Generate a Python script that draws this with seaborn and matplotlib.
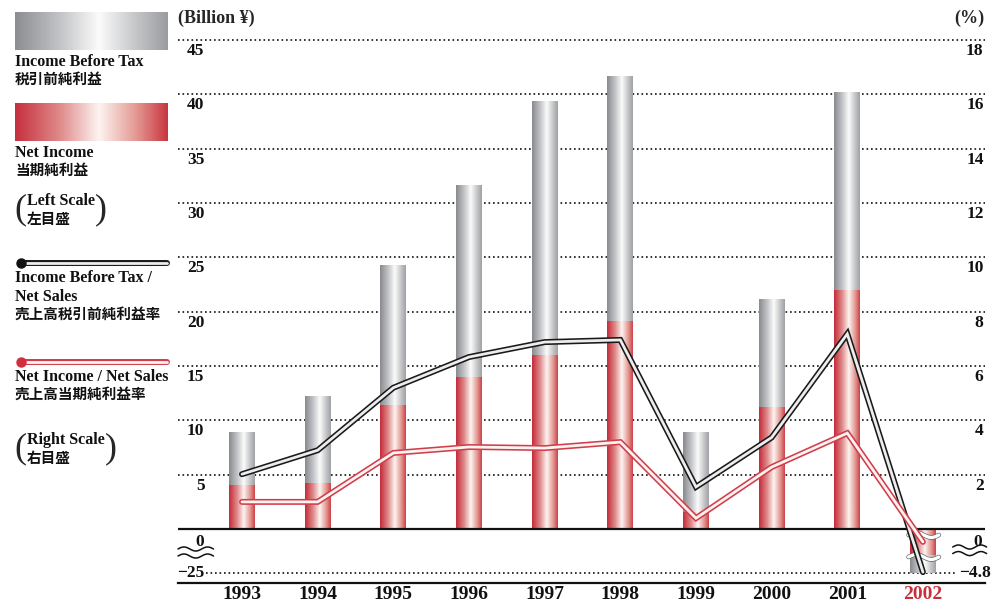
"""Income before tax / net income with margin ratios, broken axis for the 2002 loss."""

import matplotlib

matplotlib.use("Agg")

import matplotlib.patheffects as pe  # noqa: E402
import matplotlib.pyplot as plt  # noqa: E402
import numpy as np  # noqa: E402
import pandas as pd  # noqa: E402
import seaborn as sns  # noqa: E402
from matplotlib.colors import LinearSegmentedColormap  # noqa: E402
from matplotlib.transforms import blended_transform_factory  # noqa: E402

# --- data (Billion yen, left scale / percent, right scale) -------------------
YEARS = ["1993", "1994", "1995", "1996", "1997", "1998", "1999", "2000", "2001", "2002"]
INCOME_BEFORE_TAX = [9.0, 12.3, 24.3, 31.7, 39.4, 41.7, 9.0, 21.2, 40.3, -25.0]
NET_INCOME = [4.1, 4.3, 11.5, 14.0, 16.1, 19.2, 1.6, 11.3, 22.0, -14.8]
IBT_RATIO = [2.02, 2.9, 5.2, 6.33, 6.88, 6.96, 1.55, 3.37, 7.18, -4.7]
NI_RATIO = [1.0, 1.0, 2.8, 3.02, 2.98, 3.2, 0.4, 2.28, 3.53, -1.4]
LEFT_TICKS = [5, 10, 15, 20, 25, 30, 35, 40, 45]
RIGHT_TICKS = [2, 4, 6, 8, 10, 12, 14, 16, 18]
LEFT_BREAK = -25
RIGHT_BREAK = -4.8

# negative side of the axis is compressed (broken axis)
_LEFT_K = 0.162
_RIGHT_K = 0.337

BLACK = "#111111"
RED = "#c8303c"
GREY_CMAP = LinearSegmentedColormap.from_list(
    "grey_tube",
    [(0, "#8c8d91"), (0.3, "#c4c5c8"), (0.55, "#fbfbfb"), (0.8, "#c3c4c6"), (1, "#9b9ca0")],
)
RED_CMAP = LinearSegmentedColormap.from_list(
    "red_tube",
    [(0, "#c62f3d"), (0.3, "#e08d8d"), (0.55, "#fdf4f1"), (0.8, "#e39690"), (1, "#c9363f")],
)
_RAMP = np.linspace(0, 1, 256).reshape(1, -1)


def _squash(k):
    fwd = lambda y: np.where(np.asarray(y) < 0, np.asarray(y) * k, y)  # noqa: E731
    inv = lambda y: np.where(np.asarray(y) < 0, np.asarray(y) / k, y)  # noqa: E731
    return fwd, inv


def _gradient_fill(ax, patch, cmap, zorder):
    x0, y0 = patch.get_x(), patch.get_y()
    w, h = patch.get_width(), patch.get_height()
    ax.imshow(_RAMP, cmap=cmap, extent=(x0, x0 + w, y0, y0 + h),
              aspect="auto", interpolation="bicubic", zorder=zorder)
    patch.set_alpha(0)


def _tube(outer, inner, w_out=4.3, w_in=2.0):
    return dict(
        color=inner, linewidth=w_in, solid_capstyle="round", solid_joinstyle="miter",
        path_effects=[pe.Stroke(linewidth=w_out, foreground=outer,
                                capstyle="round", joinstyle="miter"), pe.Normal()],
    )


sns.set_theme(style="white")
plt.rcParams["font.family"] = ["Liberation Serif", "Noto Sans CJK JP"]
plt.rcParams["font.weight"] = "bold"

fig = plt.figure(figsize=(9.96, 6.05), dpi=100)
ax = fig.add_axes([178 / 996, 22 / 605, 807 / 996, 545 / 605])

df = pd.DataFrame({"year": YEARS, "ibt": INCOME_BEFORE_TAX, "ni": NET_INCOME})
sns.barplot(data=df, x="year", y="ibt", color="#a0a0a0", width=0.345,
            errorbar=None, ax=ax)
n_grey = len(ax.patches)
sns.barplot(data=df, x="year", y="ni", color=RED, width=0.345,
            errorbar=None, ax=ax)
patches = list(ax.patches)
for p in patches[:n_grey]:
    _gradient_fill(ax, p, GREY_CMAP, 2)
for p in patches[n_grey:]:
    _gradient_fill(ax, p, RED_CMAP, 3)

ax.set_yscale("function", functions=_squash(_LEFT_K))
ax.set_yticks(LEFT_TICKS)
ax.set_axisbelow(True)
dots = (0, (1, 1.7))
ax.grid(axis="y", color=BLACK, linestyle=dots, linewidth=1.2)
ax.axhline(LEFT_BREAK, xmin=28 / 807, xmax=779 / 807, color=BLACK,
           linestyle=dots, linewidth=1.2, zorder=1)
ax.axhline(0, color=BLACK, linewidth=1.6, zorder=4)

# right scale: margin lines
ax2 = ax.twinx()
pos = np.arange(len(YEARS))
sns.lineplot(x=pos, y=IBT_RATIO, ax=ax2, **_tube("#1a1a1a", "#ededed"))
sns.lineplot(x=pos, y=NI_RATIO, ax=ax2, **_tube("#d03e4c", "#fff3f1"))
ax2.set_yscale("function", functions=_squash(_RIGHT_K))

ax.set_ylim(-30.7, 45.18)
ax2.set_ylim(-5.89, 18.07)
ax.set_xlim(-0.846, 9.82)

for a in (ax, ax2):
    for side in ("top", "right", "left", "bottom"):
        a.spines[side].set_visible(False)
ax.spines["bottom"].set_visible(True)
ax.spines["bottom"].set_color(BLACK)
ax.spines["bottom"].set_linewidth(1.6)
ax.tick_params(axis="y", left=False, labelleft=False)
ax2.tick_params(axis="y", right=False, labelright=False)
ax2.set_ylabel("")
ax.set_ylabel("")
ax.set_xlabel("")

ax.set_xticks(pos)
ax.set_xticklabels(YEARS, fontsize=14, fontweight="bold", color=BLACK)
ax.tick_params(axis="x", length=0, pad=2)
ax.get_xticklabels()[-1].set_color(RED)

# tick labels sit just under their grid lines
lab = dict(fontsize=12.5, fontweight="bold", color=BLACK, textcoords="offset points",
           annotation_clip=False, va="center")
for v in LEFT_TICKS:
    ax.annotate(f"{v}", xy=(0, v), xycoords=("axes fraction", "data"),
                xytext=(19, -8), ha="right", **lab)
ax.annotate("0", xy=(0, 0), xycoords=("axes fraction", "data"),
            xytext=(19, -9.5), ha="right", **lab)
ax.annotate("\u221225", xy=(0, LEFT_BREAK), xycoords=("axes fraction", "data"),
            xytext=(19, 0), ha="right", **lab)
for v in RIGHT_TICKS:
    ax2.annotate(f"{v}", xy=(1, v), xycoords=("axes fraction", "data"),
                 xytext=(-1, -8), ha="right", **lab)
ax2.annotate("0", xy=(1, 0), xycoords=("axes fraction", "data"),
             xytext=(-2, -9.5), ha="right", **lab)
ax2.annotate("\u22124.8", xy=(1, RIGHT_BREAK), xycoords=("axes fraction", "data"),
             xytext=(-19, 0), ha="left", **lab)

fig.text(178 / 996, 1 - 18 / 605, "(Billion \u00a5)", ha="left", va="center",
         fontsize=13, fontweight="bold")
fig.text(984 / 996, 1 - 18 / 605, "(%)", ha="right", va="center",
         fontsize=13, fontweight="bold")

# broken-axis marks
t = np.linspace(0, 1, 80)
for y0 in (0.0624, 0.0495):
    ax.plot(0.044 * t, y0 + 0.0037 * np.sin(2 * np.pi * 1.5 * t), transform=ax.transAxes,
            color=BLACK, linewidth=1.1, clip_on=False, zorder=5)
for y0 in (0.066, 0.054):
    ax.plot(0.96 + 0.042 * t, y0 + 0.0037 * np.sin(2 * np.pi * 1.5 * t),
            transform=ax.transAxes, color=BLACK, linewidth=1.1, clip_on=False, zorder=5)
mixed = blended_transform_factory(ax.transData, ax.transAxes)
for y0 in (0.0881, 0.0477):
    ax.plot(9 - 0.19 + 0.4 * t, y0 + 0.0045 * np.sin(2 * np.pi * t), transform=mixed,
            color="white", linewidth=2.4, zorder=5, clip_on=False,
            path_effects=[pe.Stroke(linewidth=3.3, foreground="#555555"), pe.Normal()])

# --- legend panel -----------------------------------------------------------
leg = fig.add_axes([0, 0, 178 / 996, 1])
leg.imshow(_RAMP, cmap=GREY_CMAP, extent=(15, 167, 50, 12), aspect="auto",
           interpolation="bicubic")
leg.imshow(_RAMP, cmap=RED_CMAP, extent=(15, 167, 141, 103), aspect="auto",
           interpolation="bicubic")
leg.plot([21, 167], [263, 263], **_tube("#1a1a1a", "#ededed"))
leg.plot([21], [263], "o", color=BLACK, markersize=6.5)
leg.plot([21, 167], [362, 362], **_tube("#d03e4c", "#fff3f1"))
leg.plot([21], [362], "o", color="#d0303e", markersize=6.5)
leg.set_xlim(0, 178)
leg.set_ylim(605, 0)
leg.axis("off")

txt = dict(fontsize=11.5, fontweight="bold", color=BLACK, ha="left", va="center")
for y, s in [
    (62, "Income Before Tax"), (80, "税引前純利益"),
    (153, "Net Income"), (171, "当期純利益"),
    (278, "Income Before Tax /"), (297, "Net Sales"), (315, "売上高税引前純利益率"),
    (377, "Net Income / Net Sales"), (395, "売上高当期純利益率"),
]:
    leg.text(15, y, s, fontsize=11.5 if s.isascii() else 10.5,
             **{k: v for k, v in txt.items() if k != "fontsize"})
for y_top, en, ja, x_close in [(201, "Left Scale", "左目盛", 101), (440, "Right Scale", "右目盛", 111)]:
    leg.text(27, y_top, en, **txt)
    leg.text(27, y_top + 19, ja, fontsize=10.5,
             **{k: v for k, v in txt.items() if k != "fontsize"})
    leg.text(20, y_top + 9, "(", fontsize=26, fontweight="normal", ha="center", va="center")
    leg.text(x_close, y_top + 9, ")", fontsize=26, fontweight="normal", ha="center", va="center")

fig.savefig("out.png", dpi=100)
